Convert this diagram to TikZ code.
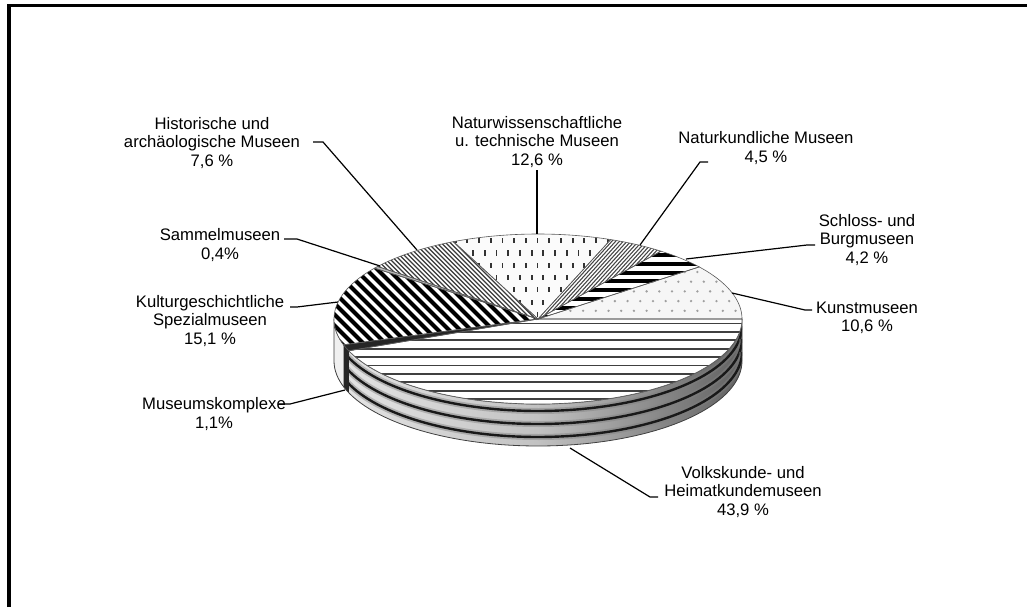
\documentclass[tikz,border=0pt]{standalone}
\usepackage{fontspec}
\setmainfont{Liberation Sans}
\newcommand\topwedge[2]{(538,319) -- plot[variable=\pa,domain=#1:#2,samples=80] ({538+204*cos(\pa)},{319-85*sin(\pa)}) -- cycle}
\newcommand\sidepiece[2]{plot[variable=\pa,domain=#1:#2,samples=80] ({538+204*cos(\pa)},{319-85*sin(\pa)}) -- plot[variable=\pa,domain=#2:#1,samples=80] ({538+204*cos(\pa)},{361-85*sin(\pa)}) -- cycle}
\begin{document}
\begin{tikzpicture}[x=0.75pt,y=-0.75pt,
  lbl/.style={align=center,font=\fontsize{12.5}{13.9}\selectfont,inner sep=0pt},
  leader/.style={draw=black,line width=0.9pt},
  sliceedge/.style={draw=black!65,line width=0.45pt}]
\useasboundingbox (0,0) rectangle (1027,607);
\fill[white] (0,0) rectangle (1027,607);
\draw[line width=2.8pt] (9,607) -- (9,5.6) -- (1027,5.6);

% ---------- side ----------
\shade[left color=black!10,right color=black!62,middle color=black!24] \sidepiece{180}{360};
\begin{scope}
  \clip \sidepiece{201.96}{360};
  \foreach \d in {7,20,33}{
    \draw[line width=4.5pt,black!50,opacity=0.45] plot[variable=\pa,domain=195:360,samples=80] ({538+204*cos(\pa)},{319+\d-85*sin(\pa)});
    \draw[line width=1.8pt,black!90] plot[variable=\pa,domain=195:360,samples=80] ({538+204*cos(\pa)},{319+\d-85*sin(\pa)});
  }
\end{scope}
\begin{scope}
  \clip \sidepiece{180}{197.64};
  \fill[gray!12] (320,310) rectangle (360,400);
  \foreach \a in {240,251,...,420}{\draw[line width=2.5pt,black!80] (\a,230) -- (\a+200,430);}
\end{scope}
\fill[black!85] \sidepiece{197.64}{201.96};
\draw[draw=black!75,line width=0.6pt] \sidepiece{180}{360};

% ---------- top slices ----------
% Volkskunde
\begin{scope}
  \clip \topwedge{201.96}{360};
  \fill[white] (330,310) rectangle (750,410);
  \foreach \yy in {323.5,331.9,...,410}{\draw[line width=1.4pt,black!75] (330,\yy) -- (750,\yy);}
\end{scope}
% Museumskomplexe
\fill[black!85] \topwedge{197.64}{201.96};
% Kulturgeschichtliche
\begin{scope}
  \clip \topwedge{143.28}{197.64};
  \fill[white] (330,240) rectangle (545,360);
  \foreach \a in {195,206,...,525}{\draw[line width=3pt,black] (\a,230) -- (\a+150,380);}
\end{scope}
% Sammelmuseen
\fill[gray!55] \topwedge{141.84}{143.28};
% Historische
\begin{scope}
  \clip \topwedge{114.48}{141.84};
  \fill[white] (360,230) rectangle (545,325);
  \foreach \a in {280,284.5,...,535}{\draw[line width=0.9pt,gray!45!black] (\a,230) -- (\a+110,340);}
\end{scope}
% Naturwissenschaftliche
\begin{scope}
  \clip \topwedge{69.12}{114.48};
  \fill[gray!3] (440,225) rectangle (640,325);
  \foreach \r in {0,...,7}{\foreach \c in {0,...,17}{
    \fill[gray!40!black] ({443+\c*11.7+mod(\r,2)*5.85},{238+\r*12.3}) rectangle ++(1.8,5.2);}}
\end{scope}
% Naturkundliche
\begin{scope}
  \clip \topwedge{52.92}{69.12};
  \fill[white] (530,230) rectangle (670,325);
  \foreach \a in {440,443.8,...,670}{\draw[line width=0.8pt,gray!55!black] (\a,330) -- (\a+100,220);}
\end{scope}
% Schloss
\begin{scope}
  \clip \topwedge{37.8}{52.92};
  \fill[white] (530,245) rectangle (710,325);
  \foreach \yy in {255,263.8,...,325}{\draw[line width=3pt,black] (530,\yy) -- (710,\yy);}
\end{scope}
% Kunst
\begin{scope}
  \clip \topwedge{0}{37.8};
  \fill[gray!7] (530,260) rectangle (750,325);
  \foreach \r in {0,...,6}{\foreach \c in {0,...,17}{
    \fill[gray!75] ({545+\c*12.7+mod(\r,2)*6.35},{272+\r*9.7}) circle (1.3);}}
\end{scope}
% edges
\foreach \p/\q in {0/37.8,37.8/52.92,52.92/69.12,69.12/114.48,114.48/141.84,141.84/143.28,143.28/197.64,197.64/201.96,201.96/360}{
  \draw[sliceedge] \topwedge{\p}{\q};}

% ---------- labels ----------
\node[lbl] (hist) at (212,143) {Historische und\\archäologische Museen\\7,6 \%};
\node[lbl] (samm) at (220,245) {Sammelmuseen\\0,4\%};
\node[lbl] (kult) at (210,321) {Kulturgeschichtliche\\Spezialmuseen\\15,1 \%};
\node[lbl] (komp) at (214,414) {Museumskomplexe\\1,1\%};
\node[lbl] (natw) at (537,142) {Naturwissenschaftliche\\u. technische Museen\\12,6 \%};
\node[lbl] (natk) at (766,148) {Naturkundliche Museen\\4,5 \%};
\node[lbl] (schl) at (867,240) {Schloss- und\\Burgmuseen\\4,2 \%};
\node[lbl] (kuns) at (867,318) {Kunstmuseen\\10,6 \%};
\node[lbl] (volk) at (743,492) {Volkskunde- und\\Heimatkundemuseen\\43,9 \%};

% ---------- leader points ----------
\coordinate (hA) at (313,142); \coordinate (hB) at (323,142); \coordinate (hP) at (417,250);
\coordinate (sA) at (284,239); \coordinate (sB) at (297,239); \coordinate (sP) at (380,266);
\coordinate (kA) at (290,307); \coordinate (kB) at (297,307); \coordinate (kP) at (338,302);
\coordinate (mA) at (279,404); \coordinate (mB) at (290,404); \coordinate (mP) at (345,390);
\coordinate (wA) at (537,170); \coordinate (wP) at (537,234);
\coordinate (nA) at (708,162); \coordinate (nB) at (700,162); \coordinate (nP) at (640,245);
\coordinate (cA) at (815,245); \coordinate (cB) at (807,245); \coordinate (cP) at (686,259);
\coordinate (uA) at (812,310); \coordinate (uB) at (805,310); \coordinate (uP) at (732,293);
\coordinate (vA) at (658,497); \coordinate (vB) at (650,497); \coordinate (vP) at (570,448);

\draw[leader] (hA) -- (hB) -- (hP);
\draw[leader] (sA) -- (sB) -- (sP);
\draw[leader] (kA) -- (kB) -- (kP);
\draw[leader] (mA) -- (mB) -- (mP);
\draw[leader] (wA) -- (wP);
\draw[leader] (nA) -- (nB) -- (nP);
\draw[leader] (cA) -- (cB) -- (cP);
\draw[leader] (uA) -- (uB) -- (uP);
\draw[leader] (vA) -- (vB) -- (vP);
\end{tikzpicture}
\end{document}
